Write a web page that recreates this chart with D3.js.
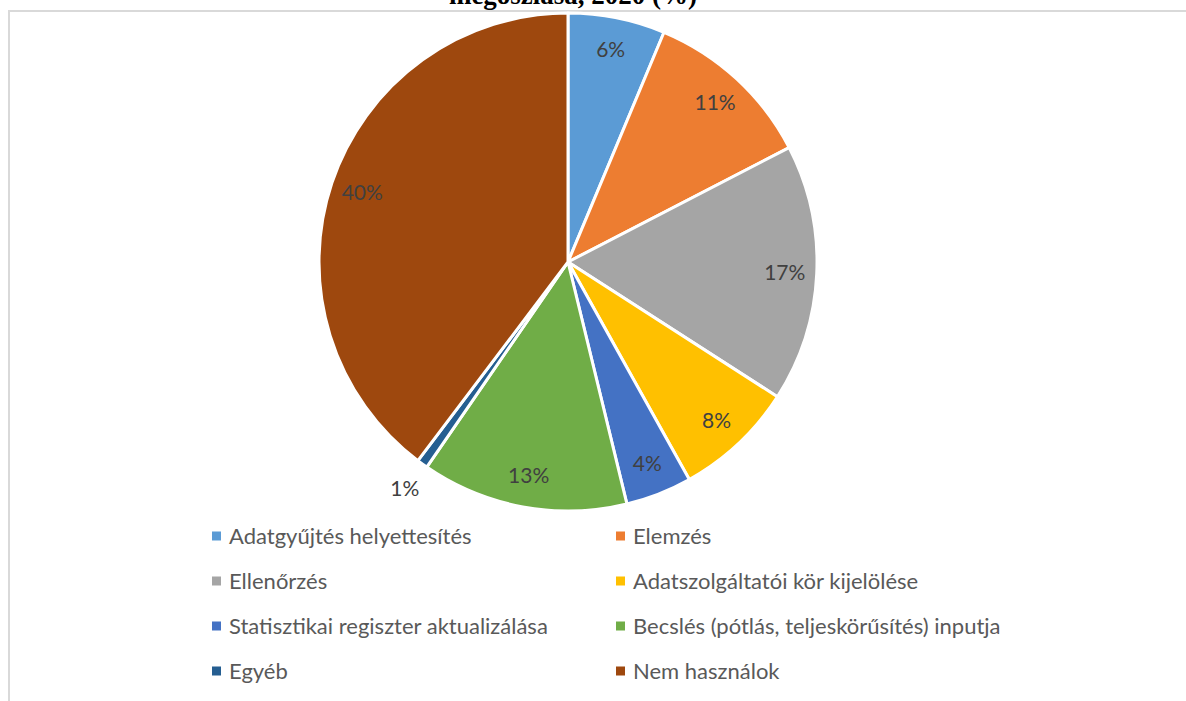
<!DOCTYPE html>
<html>
<head>
<meta charset="utf-8">
<script src="https://cdn.jsdelivr.net/npm/d3@7"></script>
<style>
  body { margin: 0; background: #fff; }
  svg { display: block; }
</style>
</head>
<body>
<script>
// shares (%), clockwise from 12 o'clock
const categories = ["Adatgyűjtés helyettesítés", "Elemzés", "Ellenőrzés",
  "Adatszolgáltatói kör kijelölése", "Statisztikai regiszter aktualizálása",
  "Becslés (pótlás, teljeskörűsítés) inputja", "Egyéb", "Nem használok"];
const values = [6.3, 11.1, 16.7, 7.8, 4.3, 13.4, 0.7, 39.7];
const colors = ["#5B9BD5", "#ED7D31", "#A5A5A5", "#FFC000", "#4472C4", "#70AD47", "#255E91", "#9E480E"];
const title = "megoszlása, 2020 (%)";

const w = 1186, h = 701;
const cx = 568, cy = 262, r = 249;

const svg = d3.select("body").append("svg").attr("width", w).attr("height", h);

// chart frame (only top and left visible)
svg.append("path")
  .attr("d", `M9,${h} L9,11 L${w},11`)
  .attr("fill", "none").attr("stroke", "#d9d9d9").attr("stroke-width", 2);

svg.append("text")
  .attr("x", 573).attr("y", 4)
  .attr("text-anchor", "middle")
  .attr("font-family", "'Liberation Serif', 'Times New Roman', serif")
  .attr("font-weight", "bold").attr("font-size", 27)
  .text(title);

const data = categories.map((c, i) => ({name: c, value: values[i], color: colors[i]}));

const pie = d3.pie().value(d => d.value).sort(null);
const arcs = pie(data);
const arc = d3.arc().innerRadius(0).outerRadius(r);

const g = svg.append("g").attr("transform", `translate(${cx},${cy})`);

g.selectAll("path.slice").data(arcs).enter().append("path")
  .attr("class", "slice")
  .attr("d", arc)
  .attr("fill", d => d.data.color)
  .attr("stroke", "#fff").attr("stroke-width", 3)
  .attr("stroke-linejoin", "round");

const fmt = d3.format(".0f");
g.selectAll("text.lbl").data(arcs).enter().append("text")
  .attr("class", "lbl")
  .attr("transform", d => {
    const a = (d.startAngle + d.endAngle) / 2;
    const rr = d.data.value < 2 ? 279 : 217;
    return `translate(${rr * Math.sin(a)},${-rr * Math.cos(a)})`;
  })
  .attr("text-anchor", "middle").attr("dy", "0.35em")
  .attr("font-family", "Lato, 'Open Sans', sans-serif").attr("font-size", 21)
  .attr("fill", "#404040")
  .text(d => fmt(d.data.value) + "%");

// legend, two columns
const legend = svg.append("g");
const item = legend.selectAll("g").data(data).enter().append("g")
  .attr("transform", (d, i) => `translate(${212 + (i % 2) * 404},${536 + Math.floor(i / 2) * 45})`);

item.append("rect").attr("x", 0).attr("y", -4.5).attr("width", 9).attr("height", 9)
  .attr("fill", d => d.color);
item.append("text").attr("x", 17).attr("dy", "0.35em")
  .attr("font-family", "Lato, 'Open Sans', sans-serif").attr("font-size", 22)
  .attr("fill", "#595959")
  .text(d => d.name);
</script>
</body>
</html>
